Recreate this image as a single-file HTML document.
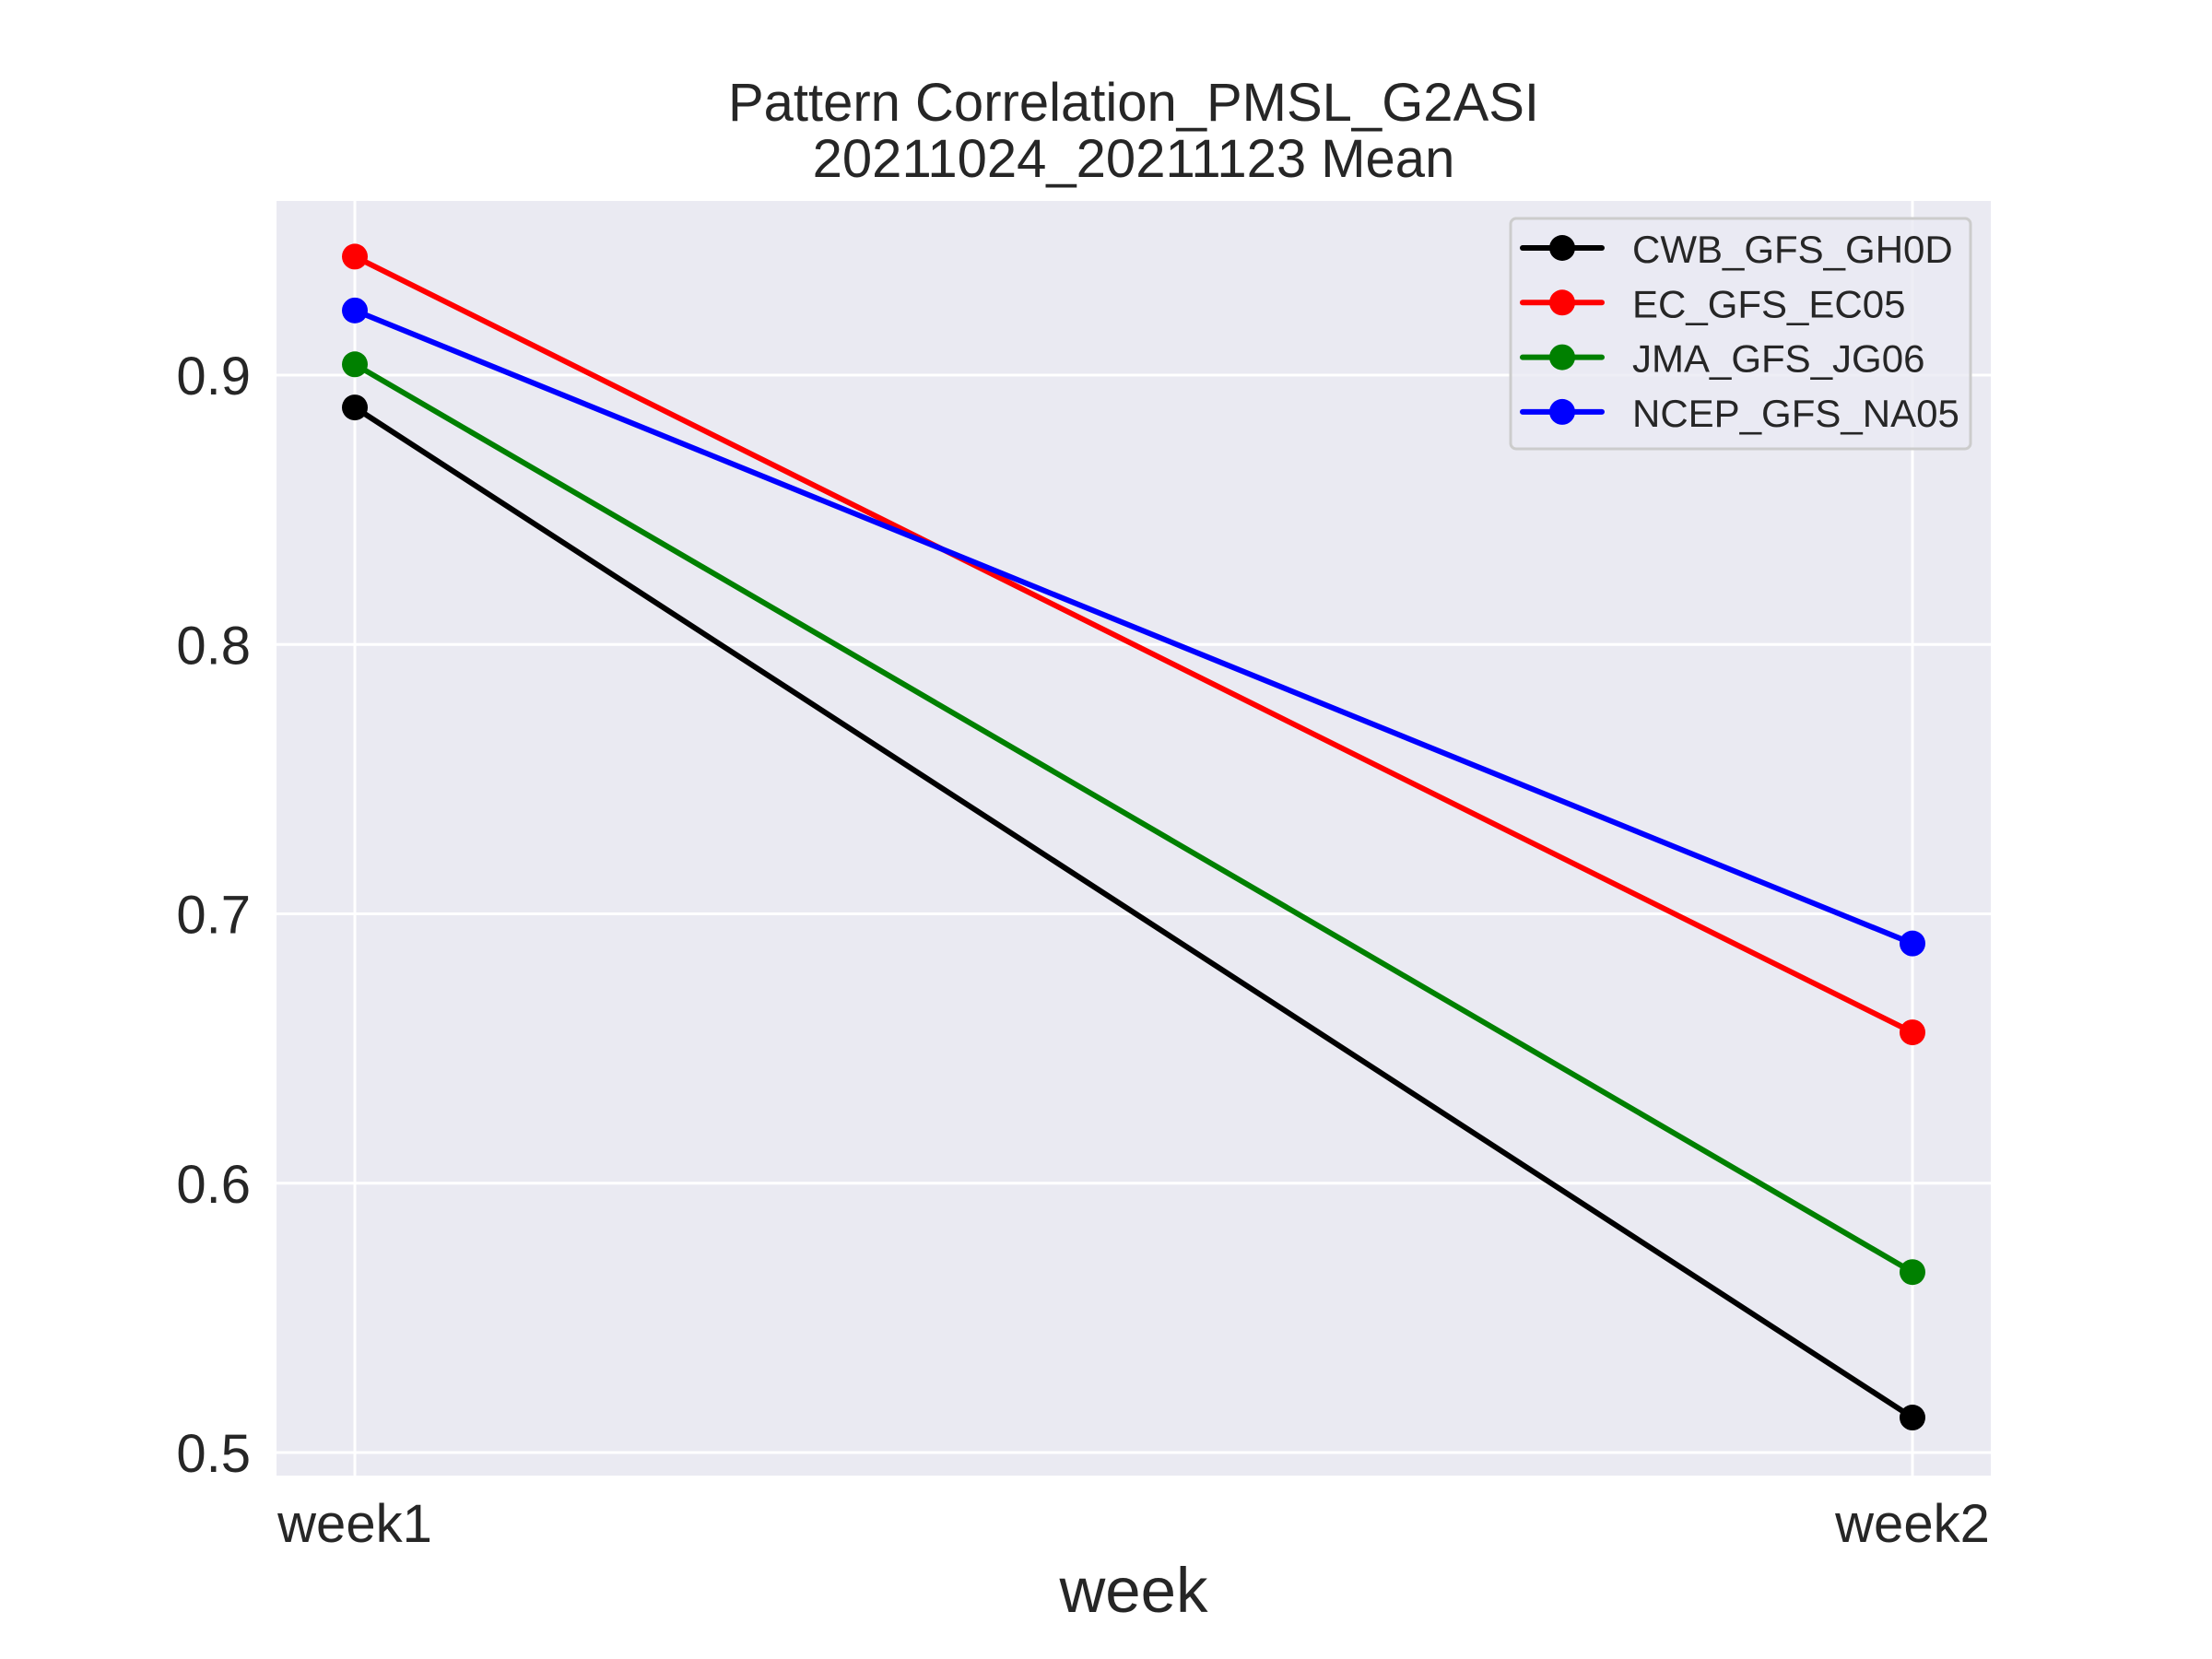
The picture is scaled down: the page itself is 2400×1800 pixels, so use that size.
<!DOCTYPE html>
<html><head><meta charset="utf-8"><style>
html,body{margin:0;padding:0;background:#fff;}
svg{display:block;font-family:"Liberation Sans",Arial,sans-serif;}
</style></head><body>
<svg id="chart" width="2400" height="1800" viewBox="0 0 2400 1800" xmlns="http://www.w3.org/2000/svg">
<rect x="0" y="0" width="2400" height="1800" fill="#ffffff"/>
<rect x="300" y="218" width="1860" height="1383" fill="#eaeaf2"/>
<g id="grid"></g>
<g id="ticks"></g>
<g id="series"></g>
<text x="1230" y="131" font-size="58" fill="#262626" text-anchor="middle">Pattern Correlation_PMSL_G2ASI</text>
<text x="1230" y="192" font-size="58" fill="#262626" text-anchor="middle">20211024_20211123 Mean</text>
<text x="1230" y="1749" font-size="69" fill="#262626" text-anchor="middle">week</text>
<g id="legend"></g>
</svg>
<script>
const categories = ["week1", "week2"];
const seriesNames = ["CWB_GFS_GH0D", "EC_GFS_EC05", "JMA_GFS_JG06", "NCEP_GFS_NA05"];
const seriesColors = ["#000000", "#ff0000", "#008000", "#0000ff"];
const cwbValues = [0.888, 0.513];
const ecValues = [0.944, 0.656];
const jmaValues = [0.904, 0.567];
const ncepValues = [0.924, 0.689];
const yTicks = [0.5, 0.6, 0.7, 0.8, 0.9];
const yTickLabels = ["0.5", "0.6", "0.7", "0.8", "0.9"];

const NS = "http://www.w3.org/2000/svg";
function xScale(i){ return 385 + i * (2075 - 385); }
function yScale(v){ return 1576 - (v - 0.5) * 2922.5; }
function mk(tag, attrs, parent){
  const e = document.createElementNS(NS, tag);
  for (const k in attrs) e.setAttribute(k, attrs[k]);
  parent.appendChild(e);
  return e;
}
const grid = document.getElementById('grid');
const ticks = document.getElementById('ticks');
yTicks.forEach((v, i) => {
  const l = mk('line', {x1:300, x2:2160, y1:yScale(v), y2:yScale(v), stroke:'#ffffff', 'stroke-width':3}, grid);
  
  
  const t = mk('text', {x:272, y:yScale(v)+21, 'font-size':58, fill:'#262626', 'text-anchor':'end'}, ticks);
  t.textContent = yTickLabels[i];
  
  
});
categories.forEach((c, i) => {
  const l = mk('line', {x1:xScale(i), x2:xScale(i), y1:218, y2:1601, stroke:'#ffffff', 'stroke-width':3}, grid);
  
  
  const t = mk('text', {x:xScale(i), y:1673, 'font-size':58, fill:'#262626', 'text-anchor':'middle'}, ticks);
  t.textContent = c;
  
  
});
const allValues = [cwbValues, ecValues, jmaValues, ncepValues];
const seriesG = document.getElementById('series');
allValues.forEach((vals, s) => {
  const g = mk('g', {}, seriesG);
  
  
  const pts = vals.map((v, i) => xScale(i) + ',' + yScale(v)).join(' ');
  const pl = mk('polyline', {points:pts, fill:'none', stroke:seriesColors[s], 'stroke-width':6, 'stroke-linecap':'round'}, g);
  
  
  vals.forEach((v, i) => {
    const c = mk('circle', {cx:xScale(i), cy:yScale(v), r:14, fill:seriesColors[s]}, g);
    
    
  });
});
const legend = document.getElementById('legend');
const box = mk('rect', {x:1639, y:237, width:499, height:250, rx:6, fill:'#eaeaf2', 'fill-opacity':0.8, stroke:'#cccccc', 'stroke-width':3}, legend);


seriesNames.forEach((n, s) => {
  const y = 269 + s * 59.3;
  const g = mk('g', {}, legend);
  
  
  mk('line', {x1:1652, x2:1738, y1:y, y2:y, stroke:seriesColors[s], 'stroke-width':6, 'stroke-linecap':'round'}, g);
  mk('circle', {cx:1695, cy:y, r:14, fill:seriesColors[s]}, g);
  const t = mk('text', {x:1771, y:y+16, 'font-size':42, fill:'#262626'}, g);
  t.textContent = n;
});
</script>
</body></html>
